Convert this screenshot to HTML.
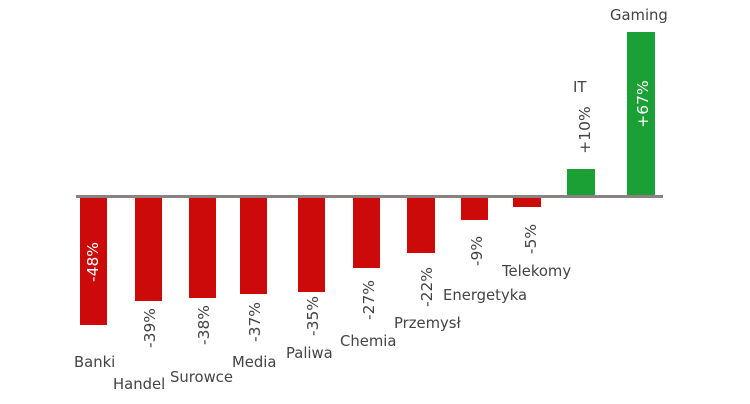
<!DOCTYPE html>
<html><head><meta charset="utf-8"><style>
html,body{margin:0;padding:0;background:#fff;}
svg{display:block;}
text{font-family:"DejaVu Sans","Liberation Sans",sans-serif;font-size:14.8px;fill:#444;}
.v{font-size:15.5px;}
.w{fill:#fff;}
</style></head><body>
<svg width="750" height="404" viewBox="0 0 750 404">
<g fill="#cc0a0a">
<rect x="80" y="196" width="27" height="129"/>
<rect x="135" y="196" width="27" height="105"/>
<rect x="189" y="196" width="27" height="102"/>
<rect x="240" y="196" width="27" height="98"/>
<rect x="298" y="196" width="27" height="96"/>
<rect x="353" y="196" width="27" height="72"/>
<rect x="407" y="196" width="28" height="57"/>
<rect x="461" y="196" width="27" height="24"/>
<rect x="513" y="196" width="28" height="11"/>
</g>
<g fill="#1ba035">
<rect x="567" y="169" width="28" height="27"/>
<rect x="627" y="32" width="28" height="164"/>
</g>
<rect x="76" y="195" width="587" height="3" fill="#8a8282"/>
<g text-anchor="middle" dominant-baseline="central">
<text class="v w" transform="translate(93,262) rotate(-90)">-48%</text>
<text class="v" transform="translate(150,328) rotate(-90)">-39%</text>
<text class="v" transform="translate(204,325) rotate(-90)">-38%</text>
<text class="v" transform="translate(255,322) rotate(-90)">-37%</text>
<text class="v" transform="translate(313,316) rotate(-90)">-35%</text>
<text class="v" transform="translate(369,300) rotate(-90)">-27%</text>
<text class="v" transform="translate(427,287) rotate(-90)">-22%</text>
<text class="v" transform="translate(477,251) rotate(-90)">-9%</text>
<text class="v" transform="translate(531,239) rotate(-90)">-5%</text>
<text class="v" transform="translate(585,130) rotate(-90)">+10%</text>
<text class="v w" transform="translate(643,104) rotate(-90)">+67%</text>
</g>
<text x="74" y="367">Banki</text>
<text x="113" y="389">Handel</text>
<text x="170" y="382">Surowce</text>
<text x="232" y="367">Media</text>
<text x="286" y="358">Paliwa</text>
<text x="340" y="346">Chemia</text>
<text x="394" y="328">Przemysł</text>
<text x="443" y="300">Energetyka</text>
<text x="502" y="276">Telekomy</text>
<text x="573" y="92">IT</text>
<text x="610" y="20">Gaming</text>
</svg>
</body></html>
